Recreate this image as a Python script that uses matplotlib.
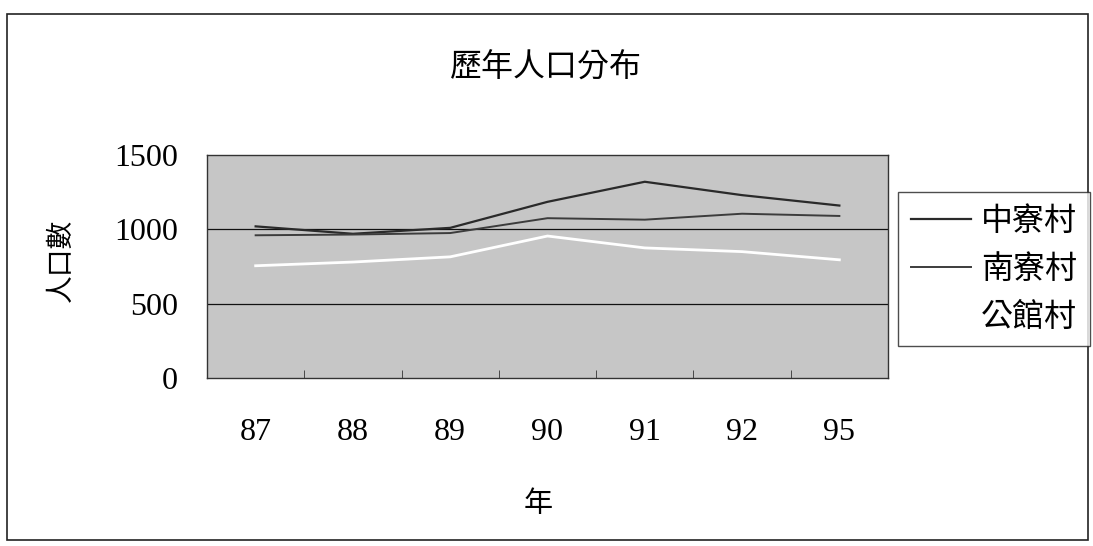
import matplotlib.pyplot as plt
from matplotlib.patches import Rectangle

# 資料
years = ['87', '88', '89', '90', '91', '92', '95']
zhongliao = [1020, 970, 1010, 1185, 1320, 1230, 1160]
nanliao = [960, 965, 975, 1075, 1065, 1105, 1090]
gongguan = [755, 780, 815, 955, 875, 850, 795]
series_names = ['中寮村', '南寮村', '公館村']

plt.rcParams['font.family'] = ['Liberation Serif', 'Noto Sans CJK TC']

fig = plt.figure(figsize=(10.93, 5.46), dpi=100)
fig.patch.set_facecolor('white')

# 外框
fig.add_artist(Rectangle((7 / 1093, 1 - 540 / 546), 1081 / 1093, 526 / 546,
                         transform=fig.transFigure, fill=False,
                         edgecolor='#222222', linewidth=1.2))

ax = fig.add_axes([207 / 1093, 1 - 378 / 546, 681 / 1093, 223 / 546])
ax.set_facecolor('#c6c6c6')

x = list(range(len(years)))
ax.plot(x, zhongliao, color='#2a2a2a', linewidth=1.6, label=series_names[0])
ax.plot(x, nanliao, color='#3c3c3c', linewidth=1.4, label=series_names[1])
ax.plot(x, gongguan, color='#ffffff', linewidth=2.0, label=series_names[2])

ax.set_xlim(-0.5, len(years) - 0.5)
ax.set_ylim(0, 1500)
ax.set_yticks([0, 500, 1000, 1500])
ax.set_xticks(x)
ax.set_xticklabels(years)
ax.set_xticks([i + 0.5 for i in x[:-1]], minor=True)
ax.tick_params(axis='x', which='major', length=0, pad=29, labelsize=23)
ax.tick_params(axis='x', which='minor', direction='in', length=6, color='#333333')
ax.tick_params(axis='y', length=0, pad=21, labelsize=23)

for y in [500, 1000]:
    ax.axhline(y, color='#111111', linewidth=0.9, zorder=1)

for s in ax.spines.values():
    s.set_color('#333333')
    s.set_linewidth(1.0)

# 軸標題與圖表標題
fig.text(61 / 1093, 1 - 260 / 546, '人口數', fontsize=20, rotation=90,
         ha='center', va='center', family=['Noto Sans CJK TC'])
fig.text(538 / 1093, 1 - 504 / 546, '年', fontsize=21,
         ha='center', va='center', family=['Noto Sans CJK TC'])
fig.text(546 / 1093, 1 - 68 / 546, '歷年人口分布', fontsize=23,
         ha='center', va='center', family=['Noto Sans CJK TC'])

leg = fig.legend(loc='upper left', bbox_to_anchor=(898 / 1093, 1 - 192 / 546),
                 fontsize=23, frameon=True, fancybox=False, handlelength=1.9,
                 borderpad=0.4, labelspacing=0.5, handletextpad=0.3,
                 borderaxespad=0)
leg.get_frame().set_edgecolor('#222222')
leg.get_frame().set_linewidth(1.0)
for t in leg.get_texts():
    t.set_fontfamily(['Noto Sans CJK TC'])

fig.savefig('out.png', dpi=100)
